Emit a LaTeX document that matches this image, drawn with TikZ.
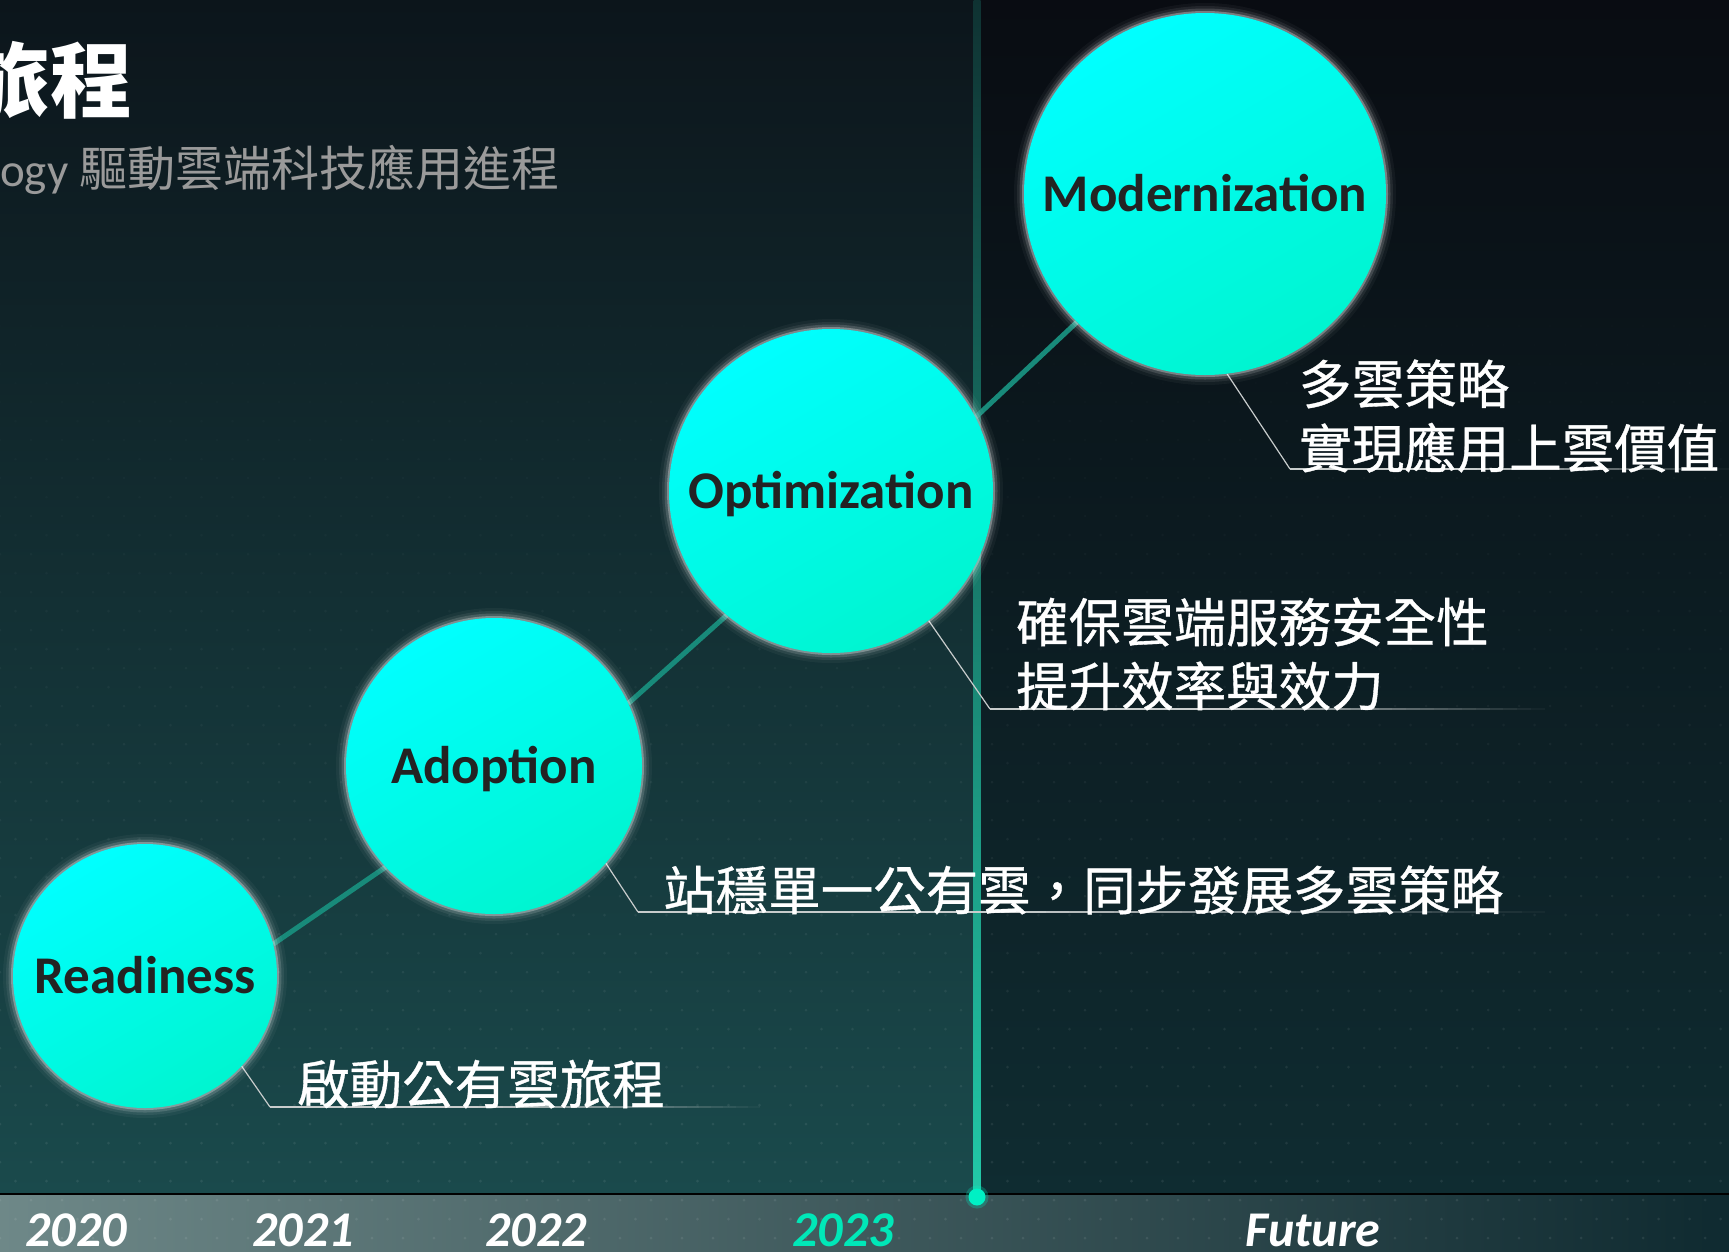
\documentclass[tikz,border=0pt]{standalone}
\usepackage{fontspec}
\setmainfont{Carlito}
\newfontfamily\cjk{Noto Sans CJK TC}
\newfontfamily\cjkmed[FakeBold=0.7]{Noto Sans CJK TC}
\usetikzlibrary{calc}
\definecolor{bgdark}{HTML}{0A0E14}
\definecolor{lefttop}{HTML}{0C151B}
\definecolor{leftmid}{HTML}{0F2228}
\definecolor{leftbot}{HTML}{1A4A4C}
\definecolor{righttop}{HTML}{090C12}
\definecolor{rightmid}{HTML}{0B1519}
\definecolor{rightbot}{HTML}{0F2C31}
\definecolor{bandleft}{HTML}{6E8888}
\definecolor{bandmid}{HTML}{2A4848}
\definecolor{bandright}{HTML}{0F2A30}
\definecolor{baseline}{HTML}{8EA0A0}
\definecolor{vtopc}{HTML}{0F3232}
\definecolor{vmidc}{HTML}{1A8070}
\definecolor{vbotc}{HTML}{22C9A8}
\definecolor{dotcol}{HTML}{00F0C4}
\definecolor{stagetop}{HTML}{00FFFF}
\definecolor{stagebot}{HTML}{00F5D0}
\definecolor{labelink}{HTML}{232323}
\definecolor{linkteal}{HTML}{188A7A}
\definecolor{callgray}{HTML}{C8CCCC}
\definecolor{subgray}{HTML}{9A9A9A}
\definecolor{yearteal}{HTML}{00E8B8}
\pgfdeclarelayer{back}
\pgfdeclarelayer{mid}
\pgfsetlayers{back,mid,main}
% faded horizontal rule: #1 start coordinate, #2 length
\newcommand\myfadeline[2]{%
  \pgfmathsetmacro{\segl}{(#2)/40}%
  \foreach \i in {0,...,39} {%
    \pgfmathsetmacro{\op}{min(1,1.7*(1-\i/40))}%
    \pgfmathsetmacro{\segx}{\i*\segl}%
    \draw[callgray, line width=1.2pt, draw opacity=\op]
      ($(#1)+(\segx,0)$) -- ++(\segl,0);
  }%
}
\begin{document}
\begin{tikzpicture}[x=1pt,y=-1pt,
  stage/.style={circle, inner sep=0pt, top color=stagetop, bottom color=stagebot, shading angle=30,
    text=labelink, font=\fontsize{53}{60}\selectfont\bfseries, text height=34pt, text depth=0pt,
    preaction={draw=white, draw opacity=0.04, line width=20pt},
    preaction={draw=white, draw opacity=0.07, line width=14pt},
    preaction={draw=white, draw opacity=0.14, line width=9pt},
    preaction={draw=white, draw opacity=0.30, line width=4pt}},
  link/.style={draw=linkteal, line width=5pt},
  callout/.style={draw=callgray, line width=1.2pt},
  desc/.style={anchor=base west, inner sep=0pt, text=white, font=\cjkmed\fontsize{52.5}{63}\selectfont},
  year/.style={anchor=base, inner sep=0pt, text=white, font=\fontsize{50}{60}\selectfont\bfseries\itshape},
]
\useasboundingbox (0,0) rectangle (1729,1251);
\clip (0,0) rectangle (1729,1251);

% ---------- background ----------
\begin{pgfonlayer}{back}
  \fill[bgdark] (0,0) rectangle (1729,1251);
  \shade[top color=lefttop, middle color=leftmid, bottom color=leftbot] (0,0) rectangle (977,1194);
  \shade[top color=righttop, middle color=rightmid, bottom color=rightbot] (977,0) rectangle (1729,1194);
  \shade[left color=bandleft, middle color=bandmid, right color=bandright] (0,1194) rectangle (1729,1251);
  % faint dot texture
  \foreach \r in {0,...,52} {
    \pgfmathsetmacro{\ry}{250+\r*19}
    \pgfmathsetmacro{\rop}{max(0,0.085*(\ry-250)/1000)}
    \pgfmathsetmacro{\rx}{mod(\r,2)*15.5}
    \fill[white, fill opacity=\rop]
      \foreach \c in {0,...,56} { ({\rx+\c*31},\ry) circle (1.5pt) };
  }
  \draw[baseline, line width=1.5pt] (0,1194) -- (1729,1194);
\end{pgfonlayer}

% ---------- timeline marker ----------
\coordinate (vtop) at (977,0);
\node[circle, fill=dotcol, minimum size=17pt, inner sep=0pt,
  preaction={draw=dotcol, draw opacity=0.25, line width=6pt}] (dot) at (977,1197) {};
\begin{pgfonlayer}{back}
  \shade[top color=vtopc, middle color=vmidc, bottom color=vbotc]
    ($(vtop)+(-3.5,0)$) rectangle ($(dot.center)+(3.5,0)$);
\end{pgfonlayer}

% ---------- title ----------
\node[anchor=base east, inner sep=0pt, text=white, font=\cjk\bfseries\fontsize{82}{90}\selectfont] (title) at (133,111) {旅程};
\node[anchor=base west, inner sep=0pt, text=subgray, font=\fontsize{47}{50}\selectfont] (subtitle) at (0,186)
  {ogy {\cjk\fontsize{48}{50}\selectfont 驅動雲端科技應用進程}};

% ---------- stages ----------
\node[stage, minimum size=264pt] (R) at (145,976) {Readiness};
\node[stage, minimum size=296pt] (A) at (494,766) {Adoption};
\node[stage, minimum size=324pt] (O) at (831,491) {Optimization};
\node[stage, minimum size=362pt] (M) at (1205,194) {Modernization};

% ---------- connectors ----------
\begin{pgfonlayer}{mid}
  \draw[link] (R.14.5) -- (A.223.6);
  \draw[link] (A.25.3) -- (O.230.8);
  \draw[link] (O.27.7) -- (M.225);

  \coordinate (Rb) at (270,1107);
  \coordinate (Ab) at (638,912);
  \coordinate (Ob) at (990,709);
  \coordinate (Mb) at (1290,469);
  \draw[callout] (R.-43.5) -- (Rb);
  \draw[callout] (A.-41.4) -- (Ab);
  \draw[callout] (O.-53.5) -- (Ob);
  \draw[callout] (M.-83) -- (Mb);
  \myfadeline{Rb}{490}
  \myfadeline{Ab}{907}
  \myfadeline{Ob}{555}
  \myfadeline{Mb}{439}
\end{pgfonlayer}

% ---------- descriptions ----------
\node[desc] (Rt) at (297,1104) {啟動公有雲旅程};
\node[desc] (At) at (663,910) {站穩單一公有雲，同步發展多雲策略};
\node[desc] (Ot1) at (1016,642) {確保雲端服務安全性};
\node[desc] (Ot2) at (1016,706) {提升效率與效力};
\node[desc] (Mt1) at (1299,404) {多雲策略};
\node[desc] (Mt2) at (1299,468) {實現應用上雲價值};

% ---------- years ----------
\node[year] (y20) at (76,1246) {2020};
\node[year] (y21) at (303,1246) {2021};
\node[year] (y22) at (536,1246) {2022};
\node[year, text=yearteal] (y23) at (843,1246) {2023};
\node[year] (yF) at (1313,1246) {Future};
\end{tikzpicture}
\end{document}
